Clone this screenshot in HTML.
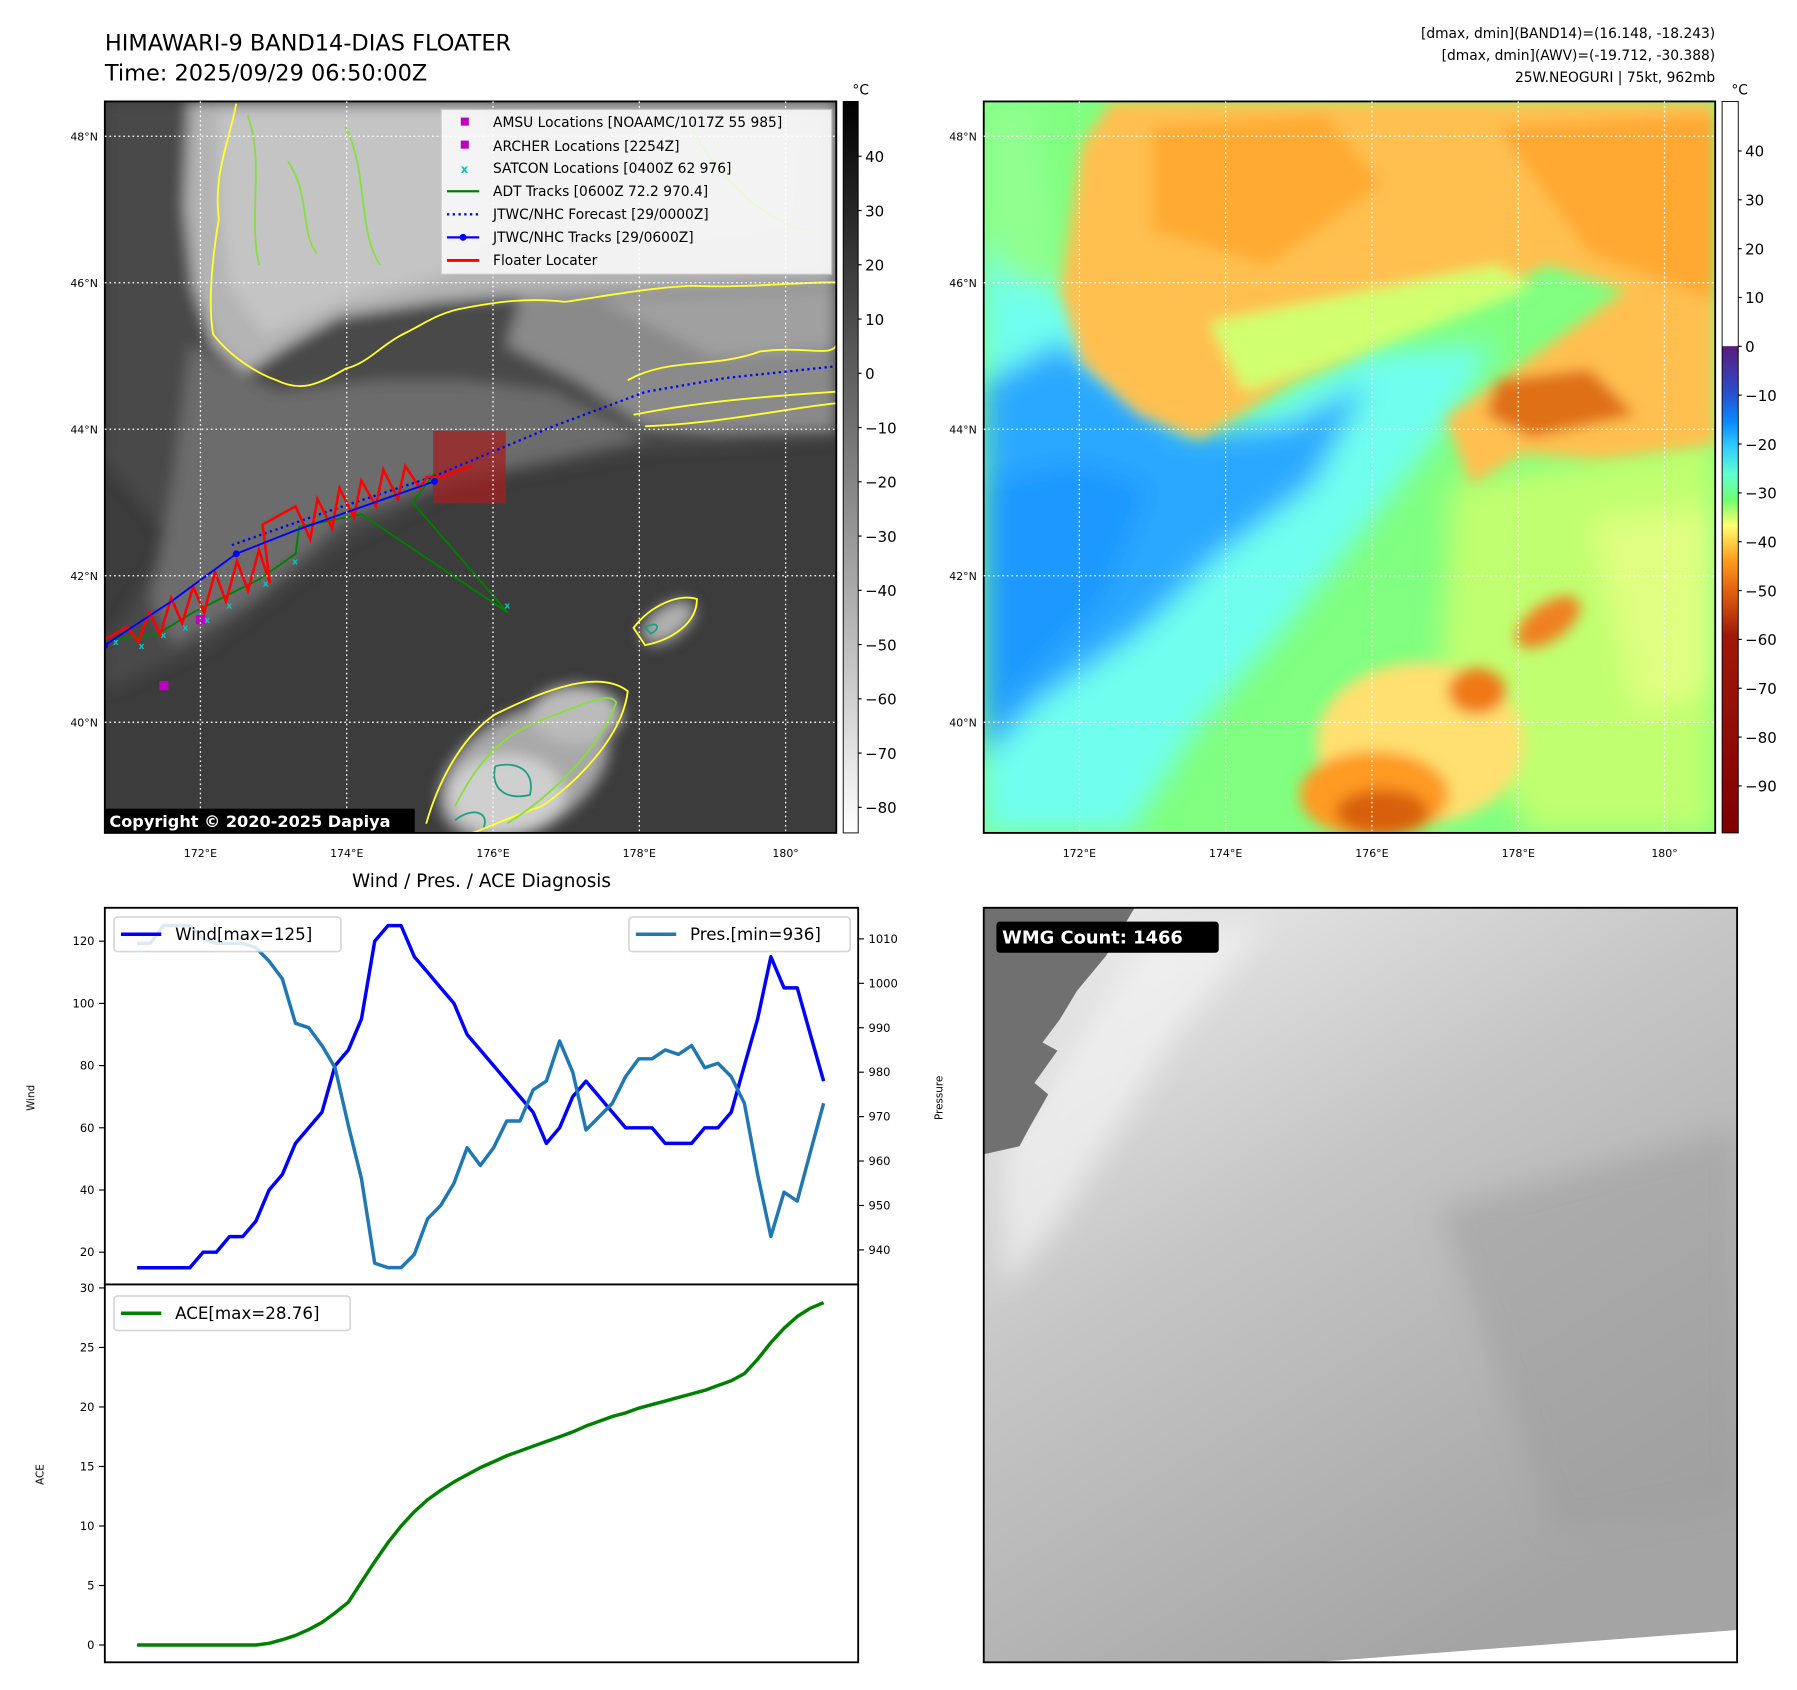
<!DOCTYPE html>
<html><head><meta charset="utf-8"><style>
html,body{margin:0;padding:0;background:#fff}
svg{display:block}
text{font-family:"DejaVu Sans","Liberation Sans",sans-serif}
</style></head><body>
<svg id="root" xmlns="http://www.w3.org/2000/svg" width="1797" height="1690" viewBox="0 0 1560 1467">
<defs>
<filter id="b6" x="-20%" y="-20%" width="140%" height="140%"><feGaussianBlur stdDeviation="6"/></filter>
<filter id="b12" x="-30%" y="-30%" width="160%" height="160%"><feGaussianBlur stdDeviation="12"/></filter>
<filter id="b3"><feGaussianBlur stdDeviation="2.5"/></filter>
<clipPath id="c1"><rect x="91" y="88" width="635" height="635"/></clipPath>
<clipPath id="c2"><rect x="854" y="88" width="635" height="635"/></clipPath>
<clipPath id="c3"><rect x="854" y="788" width="654" height="655"/></clipPath>
<linearGradient id="cb1" x1="0" y1="0" x2="0" y2="1"><stop offset="0" stop-color="#000"/><stop offset="1" stop-color="#fff"/></linearGradient>
<linearGradient id="cb2" x1="0" y1="0" x2="0" y2="1">
<stop offset="0" stop-color="#fff"/><stop offset="0.334" stop-color="#fff"/><stop offset="0.335" stop-color="#5a1a7a"/>
<stop offset="0.40" stop-color="#2850d0"/><stop offset="0.44" stop-color="#0a8cff"/><stop offset="0.47" stop-color="#30c8ff"/>
<stop offset="0.51" stop-color="#60ffd0"/><stop offset="0.545" stop-color="#70ff70"/><stop offset="0.58" stop-color="#ffff70"/>
<stop offset="0.625" stop-color="#ffa020"/><stop offset="0.67" stop-color="#e06010"/><stop offset="0.73" stop-color="#a01808"/>
<stop offset="1" stop-color="#800000"/></linearGradient>
<linearGradient id="wmg" x1="0" y1="0" x2="0.6" y2="1"><stop offset="0" stop-color="#f0f0f0"/><stop offset="0.45" stop-color="#c6c6c6"/><stop offset="1" stop-color="#a4a4a4"/></linearGradient>
</defs>

<text x="91" y="44" font-size="19.5">HIMAWARI-9 BAND14-DIAS FLOATER</text>
<text x="91" y="70" font-size="19.5">Time: 2025/09/29 06:50:00Z</text>
<g font-size="12" text-anchor="end">
<text x="1489" y="33">[dmax, dmin](BAND14)=(16.148, -18.243)</text>
<text x="1489" y="52">[dmax, dmin](AWV)=(-19.712, -30.388)</text>
<text x="1489" y="71">25W.NEOGURI | 75kt, 962mb</text>
</g>

<!-- MAP 1 -->
<g clip-path="url(#c1)">
<rect x="91" y="88" width="635" height="635" fill="#3c3c3c"/>
<g filter="url(#b6)">
<polygon points="91,88 91,400 150,470 91,560 91,600 180,560 300,470 400,420 560,390 726,380 726,88" fill="#4a4a4a"/>
<polygon points="165,300 240,340 330,330 400,330 480,340 560,380 470,400 380,420 300,450 220,520 150,560 130,520 150,420" fill="#6c6c6c"/>
<polygon points="457,243 726,243 726,373 620,375 560,370 500,330 440,300" fill="#8a8a8a"/>
<polygon points="520,260 726,250 726,300 620,310" fill="#a0a0a0"/>
<polygon points="164,88 726,88 726,243 560,250 420,258 376,262 294,275 250,300 213,324 185,300 168,250 160,180" fill="#b4b4b4"/>
<polygon points="190,95 420,95 440,200 380,240 300,260 230,290 200,250 190,180" fill="#c4c4c4"/>
<polygon points="470,100 700,100 690,200 560,220 480,200" fill="#bcbcbc"/>
<ellipse cx="455" cy="670" rx="80" ry="50" fill="#a8a8a8" transform="rotate(-30 455 670)"/>
<ellipse cx="440" cy="690" rx="50" ry="35" fill="#cfcfcf"/>
<ellipse cx="500" cy="620" rx="40" ry="25" fill="#bbbbbb"/>
<ellipse cx="580" cy="540" rx="26" ry="14" fill="#b0b0b0" transform="rotate(-35 580 540)"/>
</g>
<g fill="none" stroke-width="1.6">
<path d="M205,90 C200,120 185,150 190,190 C185,220 180,260 185,290 C200,310 225,325 240,330 C260,340 275,335 300,320 C320,315 330,300 350,290 C370,280 380,272 400,268 C430,262 460,258 490,262 C520,258 560,250 600,248 C650,250 690,245 726,245" stroke="#ffff30"/>
<path d="M215,100 C230,140 215,190 225,230 M300,110 C320,150 310,200 330,230 M600,110 C620,150 660,190 700,200 M250,140 C270,170 260,200 275,220" stroke="#88dd40"/>
<path d="M545,330 C580,310 620,320 660,305 C700,300 720,310 726,300 M550,360 C600,350 650,345 726,340 M560,370 C620,368 680,355 726,350" stroke="#ffff30"/>
<path d="M370,715 C380,680 400,640 430,620 C470,600 520,580 545,600 C540,640 500,680 470,700 C440,710 420,720 410,723" stroke="#ffff30"/>
<path d="M395,700 C410,670 430,640 470,625 C510,610 530,600 535,610 C520,650 480,690 440,715" stroke="#88dd40"/>
<path d="M430,665 C450,660 465,670 460,690 C440,695 425,685 430,665 M395,712 C410,700 425,705 420,718" stroke="#20a080"/>
<path d="M550,545 C565,525 590,515 605,520 C605,540 585,555 560,560 Z" stroke="#ffff30"/>
<path d="M560,545 C570,538 575,545 565,550 Z" stroke="#20a080"/>
</g>
<rect x="376" y="374" width="63" height="63" fill="#a02020" opacity="0.75"/>
<g id="tracks"></g>
</g>
<rect x="91" y="88" width="635" height="635" fill="none" stroke="#000" stroke-width="1.6"/>
<g id="grid1"></g>
<g>
<rect x="383" y="95" width="339" height="143" fill="#fff" opacity="0.82" stroke="#ccc"/>
<g font-size="12">
<rect x="400" y="102" width="7" height="7" fill="#c000c0"/><text x="428" y="110">AMSU Locations [NOAAMC/1017Z 55 985]</text>
<rect x="400" y="122" width="7" height="7" fill="#c000c0"/><text x="428" y="131">ARCHER Locations [2254Z]</text>
<text x="400" y="150" fill="#10c0c0" font-size="10" font-weight="bold">x</text><text x="428" y="150">SATCON Locations [0400Z 62 976]</text>
<line x1="388" y1="166" x2="416" y2="166" stroke="green" stroke-width="2"/><text x="428" y="170">ADT Tracks [0600Z 72.2 970.4]</text>
<line x1="388" y1="186" x2="416" y2="186" stroke="blue" stroke-width="2" stroke-dasharray="2,3"/><text x="428" y="190">JTWC/NHC Forecast [29/0000Z]</text>
<line x1="388" y1="206" x2="416" y2="206" stroke="blue" stroke-width="2"/><circle cx="402" cy="206" r="3" fill="blue"/><text x="428" y="210">JTWC/NHC Tracks [29/0600Z]</text>
<line x1="388" y1="226" x2="416" y2="226" stroke="red" stroke-width="2.5"/><text x="428" y="230">Floater Locater</text>
</g></g>
<rect x="91" y="702" width="269" height="21" fill="#000"/>
<text x="95" y="718" font-size="14" font-weight="bold" fill="#fff">Copyright © 2020-2025 Dapiya</text>
<rect x="732" y="88" width="13" height="635" fill="url(#cb1)" stroke="#000" stroke-width="0.8"/>
<text x="740" y="82" font-size="12">°C</text>
<g id="cbt1"></g>

<!-- MAP 2 -->
<g clip-path="url(#c2)">
<rect x="854" y="88" width="635" height="635" fill="#80ff80"/>
<g filter="url(#b12)">
<polygon points="1260,420 1489,380 1489,723 1330,723 1250,600" fill="#c0ff70"/>
<polygon points="1380,450 1489,440 1489,600 1420,620" fill="#e0ff80"/>
<polygon points="854,200 921,252 1041,381 1188,305 1299,300 1255,370 1200,440 1120,540 1040,630 980,723 854,723" fill="#70ffee"/>
<polygon points="854,332 921,296 1032,376 1121,367 1188,332 1140,420 1060,480 988,550 900,610 854,660" fill="#2aa8ff"/>
<polygon points="854,420 930,400 1000,420 960,520 880,600 854,640" fill="#1c98ff"/>
<polygon points="854,88 900,88 921,252 870,240 854,200" fill="#90ff90"/>
</g>
<g filter="url(#b6)">
<polygon points="965,88 939,127 921,252 939,314 988,359 1041,381 1121,332 1188,305 1255,270 1299,252 1344,230 1411,252 1299,332 1255,363 1277,421 1322,394 1389,399 1489,386 1489,88" fill="#ffc050"/>
<polygon points="1000,110 1150,100 1200,160 1100,230 1000,200" fill="#ffaa30"/>
<polygon points="1300,110 1489,100 1489,260 1380,220" fill="#ffa830"/>
<polygon points="1050,280 1200,250 1300,230 1330,250 1200,300 1080,340" fill="#d0ff70"/>
<polygon points="1300,330 1380,320 1420,360 1330,380 1290,360" fill="#e07018"/>
<ellipse cx="1233" cy="645" rx="90" ry="70" fill="#ffe070"/>
<ellipse cx="1193" cy="690" rx="65" ry="38" fill="#ff9a20"/>
<ellipse cx="1200" cy="705" rx="40" ry="20" fill="#d86010"/>
<ellipse cx="1282" cy="600" rx="25" ry="20" fill="#f07818"/>
<ellipse cx="1344" cy="540" rx="32" ry="16" fill="#f08020" transform="rotate(-35 1344 540)"/>
</g>
</g>
<rect x="854" y="88" width="635" height="635" fill="none" stroke="#000" stroke-width="1.6"/>
<g id="grid2"></g>
<rect x="1495" y="88" width="14" height="635" fill="url(#cb2)" stroke="#000" stroke-width="0.8"/>
<text x="1503" y="82" font-size="12">°C</text>
<g id="cbt2"></g>

<!-- CHARTS -->
<text x="418" y="770" font-size="16" text-anchor="middle">Wind / Pres. / ACE Diagnosis</text>
<g id="chart"></g>

<!-- WMG -->
<g clip-path="url(#c3)">
<polygon points="854,788 1508,788 1508,1415 1140,1443 854,1443" fill="url(#wmg)"/>
<g filter="url(#b12)">
<polygon points="870,1000 990,820 1100,800 1020,900 920,1060 870,1120" fill="#f6f6f6" opacity="0.6"/>
<polygon points="1250,1050 1508,980 1508,1300 1350,1330" fill="#9c9c9c" opacity="0.5"/>
</g>
<polygon points="854,788 985,788 960,830 935,860 920,885 905,905 918,912 898,940 910,950 893,980 885,995 854,1002" fill="#707070"/>
</g>
<rect x="854" y="788" width="654" height="655" fill="none" stroke="#000" stroke-width="1.6"/>
<rect x="865" y="800" width="193" height="27" rx="3" fill="#000"/>
<text x="870" y="819" font-size="15.5" font-weight="bold" fill="#fff">WMG Count: 1466</text>
</svg>
<script>
const NS='http://www.w3.org/2000/svg';
// ---- chart data ----
const wind=[15,15,15,15,15,20,20,25,25,30,40,45,55,60,65,80,85,95,120,125,125,115,110,105,100,90,85,80,75,70,65,55,60,70,75,70,65,60,60,60,55,55,55,60,60,65,80,95,115,105,105,90,75];
const pres=[1009,1009,1013,1013,1013,1010,1009,1009,1009,1008,1005,1001,991,990,986,981,968,956,937,936,936,939,947,950,955,963,959,963,969,969,976,978,987,980,967,970,973,979,983,983,985,984,986,981,982,979,973,957,943,953,951,962,973];
const ace=[0,0,0,0,0,0,0,0,0,0,0.15,0.45,0.8,1.3,1.9,2.7,3.6,5.3,7.0,8.6,10.0,11.2,12.2,13.0,13.7,14.3,14.9,15.4,15.9,16.3,16.7,17.1,17.5,17.9,18.4,18.8,19.2,19.5,19.9,20.2,20.5,20.8,21.1,21.4,21.8,22.2,22.8,24.0,25.4,26.6,27.6,28.3,28.76];
const windTicks=[20,40,60,80,100,120];
const presTicks=[940,950,960,970,980,990,1000,1010];
const aceTicks=[0,5,10,15,20,25,30];
// ---- map data (lon/lat) ----
const lonTicks=[172,174,176,178,180];
const latTicks=[40,42,44,46,48];
const irTicks=[40,30,20,10,0,-10,-20,-30,-40,-50,-60,-70,-80];
const wvTicks=[40,30,20,10,0,-10,-20,-30,-40,-50,-60,-70,-80,-90];
const fcLon=[172.43,173.8,175.2,176.82,178.08,179.18,180.69];
const fcLat=[42.42,42.9,43.36,44.04,44.51,44.70,44.86];
const trLon=[170.69,171.6,172.49,173.3,173.98,175.2];
const trLat=[41.05,41.65,42.30,42.62,42.86,43.29];
const adtLon=[170.83,171.4,171.9,172.8,173.3,173.35,174.2,176.2,174.9,175.2];
const adtLat=[41.13,41.2,41.5,41.95,42.3,42.67,42.84,41.5,43.0,43.4];
const zzLon=[170.69,171.0,171.15,171.3,171.45,171.6,171.75,171.9,172.05,172.2,172.35,172.5,172.65,172.8,172.95,172.85,173.3,173.5,173.6,173.8,173.9,174.1,174.2,174.4,174.5,174.7,174.8,175.0,175.1,175.3,175.7];
const zzLat=[41.13,41.3,41.1,41.5,41.2,41.7,41.35,41.85,41.5,42.05,41.65,42.2,41.8,42.35,41.9,42.7,42.95,42.5,43.05,42.65,43.2,42.8,43.3,42.95,43.45,43.05,43.5,43.2,43.35,43.35,43.5];
const satLon=[170.85,171.2,171.5,171.8,172.1,172.4,172.9,173.3,176.2];
const satLat=[41.1,41.05,41.2,41.3,41.4,41.6,41.9,42.2,41.6];
const amsuLon=[171.5],amsuLat=[40.5];
const archLon=[172.0],archLat=[41.4];

function el(t,a,p){const e=document.createElementNS(NS,t);for(const k in a)e.setAttribute(k,a[k]);p.appendChild(e);return e;}
function px(lon){return 174+(lon-172)*63.5;}
function py(lat){return 627-(lat-40)*63.6;}
function px2(lon){return 937+(lon-172)*63.5;}
const tr=document.getElementById('tracks');
function poly(lons,lats,attrs,name){const pts=lons.map((l,i)=>px(l).toFixed(1)+','+py(lats[i]).toFixed(1)).join(' ');const p=el('polyline',Object.assign({points:pts,fill:'none'},attrs),tr);

return p;}
poly(adtLon,adtLat,{stroke:'green','stroke-width':1.6},'adt-track');
satLon.forEach((l,i)=>{const t=el('text',{x:px(l)-3,y:py(satLat[i])+3,'font-size':8,fill:'#10c0c0','font-weight':'bold'},tr);t.textContent='x';

});
poly(fcLon,fcLat,{stroke:'blue','stroke-width':2,'stroke-dasharray':'2,3'},'jtwc-forecast');
poly(zzLon,zzLat,{stroke:'red','stroke-width':2.2},'floater-locater');
poly(trLon,trLat,{stroke:'blue','stroke-width':1.6},'jtwc-track');
[0,2,5].forEach(i=>{const c=el('circle',{cx:px(trLon[i]),cy:py(trLat[i]),r:3,fill:'blue'},tr);

});
amsuLon.forEach((l,i)=>{const r=el('rect',{x:px(l)-4,y:py(amsuLat[i])-4,width:8,height:8,fill:'#c000c0'},tr);

});
archLon.forEach((l,i)=>{const r=el('rect',{x:px(l)-4,y:py(archLat[i])-4,width:8,height:8,fill:'#c000c0'},tr);

});

function grid(gid,xf,x0){const g=document.getElementById(gid);
lonTicks.forEach(l=>{const x=xf(l);el('line',{x1:x,y1:88,x2:x,y2:723,stroke:'#fff','stroke-width':1.1,'stroke-dasharray':'1.5,2.5'},g);
const t=el('text',{x:x,y:744,'font-size':9.5,'text-anchor':'middle'},g);t.textContent=l===180?'180°':l+'°E';

});
latTicks.forEach(l=>{const y=py(l);el('line',{x1:x0,y1:y,x2:x0+635,y2:y,stroke:'#fff','stroke-width':1.1,'stroke-dasharray':'1.5,2.5'},g);
const t=el('text',{x:x0-6,y:y+3.5,'font-size':9.5,'text-anchor':'end'},g);t.textContent=l+'°N';

});}
grid('grid1',px,91);grid('grid2',px2,854);

function cbt(gid,ticks,x,y0,k){const g=document.getElementById(gid);ticks.forEach(v=>{const y=y0-(v)*k;
el('line',{x1:x,y1:y,x2:x+3,y2:y,stroke:'#000'},g);
const t=el('text',{x:x+6,y:y+5,'font-size':13},g);t.textContent=(v<0?'\u2212'+(-v):''+v);

});}
cbt('cbt1',irTicks,745,324,4.71);
cbt('cbt2',wvTicks,1509,300.6,4.24);

// ---- wind/pres/ace chart ----
const ch=document.getElementById('chart');
const X0=119,X1=715;
function cx(i){return X0+i*(X1-X0)/(wind.length-1);}
function yW(v){return 1087-(v-20)*2.7;}
function yP(v){return 1085-(v-940)*3.857;}
function yA(v){return 1428-v*10.333;}
el('rect',{x:91,y:788,width:654,height:327,fill:'#fff',stroke:'#000','stroke-width':1.6},ch);
el('rect',{x:91,y:1115,width:654,height:328,fill:'#fff',stroke:'#000','stroke-width':1.6},ch);
function ticks(arr,f,side,fs){arr.forEach(v=>{const y=f(v);const x=side<0?91:745;
el('line',{x1:x,y1:y,x2:x+side*5,y2:y,stroke:'#000','stroke-width':1},ch);
const t=el('text',{x:x+side*9,y:y+3.5,'font-size':fs,'text-anchor':side<0?'end':'start'},ch);t.textContent=v;

});}
ticks(windTicks,yW,-1,10);ticks(presTicks,yP,1,10);ticks(aceTicks,yA,-1,10);
function lab(txt,x,y,n){const t=el('text',{x:x,y:y,'font-size':9,'text-anchor':'middle',transform:`rotate(-90 ${x} ${y})`},ch);t.textContent=txt;

}
lab('Wind',30,953,'wind-axis-title');lab('Pressure',818,953,'pressure-axis-title');lab('ACE',38,1280,'ace-axis-title');
function line(vals,f,color,name){const p=el('polyline',{points:vals.map((v,i)=>cx(i).toFixed(1)+','+f(v).toFixed(1)).join(' '),fill:'none',stroke:color,'stroke-width':3,'stroke-linejoin':'round'},ch);

}
line(wind,yW,'#0000ff','wind-line');
line(pres,yP,'#1f77b4','pressure-line');
line(ace,yA,'#008000','ace-line');
function legend(x,y,w,color,txt,name){const g=el('g',{},ch);


el('rect',{x:x,y:y,width:w,height:30,rx:3,fill:'#fff',opacity:0.85,stroke:'#d0d0d0','stroke-width':1.5},g);
el('line',{x1:x+6,y1:y+15,x2:x+41,y2:y+15,stroke:color,'stroke-width':3},g);
const t=el('text',{x:x+53,y:y+20,'font-size':14.5},g);t.textContent=txt;}
legend(99,796,197,'#0000ff','Wind[max=125]','wind-legend');
legend(546,796,192,'#1f77b4','Pres.[min=936]','pressure-legend');
legend(99,1125,205,'#008000','ACE[max=28.76]','ace-legend');
</script>
</body></html>
